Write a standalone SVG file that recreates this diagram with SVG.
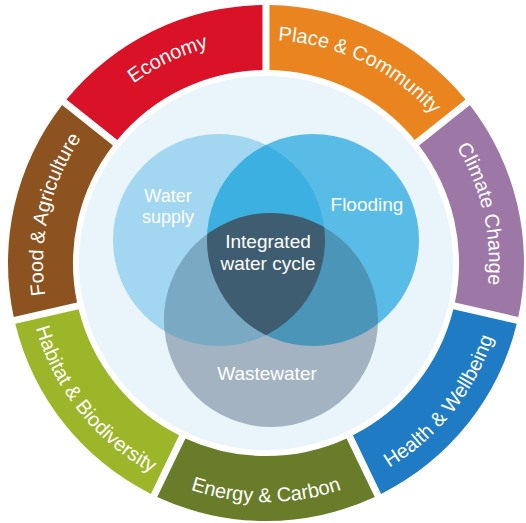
<svg xmlns="http://www.w3.org/2000/svg" xmlns:xlink="http://www.w3.org/1999/xlink" width="526" height="523" viewBox="0 0 526 523">
  <style>
    .ring-label { font-family: "Liberation Sans", Arial, sans-serif; font-size: 20px; fill: #ffffff; }
    .venn-label { font-family: "Liberation Sans", Arial, sans-serif; font-size: 19px; fill: #ffffff; text-anchor: middle; }
    .venn-label.small { font-size: 18px; }
  </style>
  <defs>
    <!-- one ring segment, centred on the top, 1/7 of the circle with a 7px straight gap on each side -->
    <path id="seg" d="M -108.78 -233.95 A 258 258 0 0 1 108.78 -233.95 L 80.57 -175.38 A 193 193 0 0 0 -80.57 -175.38 Z"/>
    <!-- label baselines: clockwise (letters face outward) and anticlockwise (letters face inward) -->
    <path id="arcCw" d="M -111.5 -193.12 A 223 223 0 0 1 111.5 -193.12"/>
    <path id="arcCcw" d="M 119.5 -206.98 A 239 239 0 0 0 -119.5 -206.98"/>
    <clipPath id="clipSupply"><circle cx="219" cy="240" r="106"/></clipPath>
    <clipPath id="clipFlood"><circle cx="313" cy="240" r="106"/></clipPath>
  </defs>

  <rect width="526" height="523" fill="#ffffff"/>

  <!-- pale backdrop disc -->
  <circle id="backdrop" cx="266" cy="263" r="187" fill="#EAF4FB"/>

  <!-- outer ring of themes -->
  <g id="place-community" transform="translate(266 263) rotate(25.714)">
    <use xlink:href="#seg" fill="#E9841E"/>
    <text class="ring-label"><textPath xlink:href="#arcCw" startOffset="50%" text-anchor="middle">Place &amp; Community</textPath></text>
  </g>
  <g id="climate-change" transform="translate(266 263) rotate(77.143)">
    <use xlink:href="#seg" fill="#9D78A7"/>
    <text class="ring-label"><textPath xlink:href="#arcCw" startOffset="50%" text-anchor="middle">Climate Change</textPath></text>
  </g>
  <g id="health-wellbeing" transform="translate(266 263) rotate(128.571)">
    <use xlink:href="#seg" fill="#1F7BC3"/>
    <text class="ring-label"><textPath xlink:href="#arcCcw" startOffset="50%" text-anchor="middle">Health &amp; Wellbeing</textPath></text>
  </g>
  <g id="energy-carbon" transform="translate(266 263) rotate(180)">
    <use xlink:href="#seg" fill="#687C2A"/>
    <text class="ring-label"><textPath xlink:href="#arcCcw" startOffset="50%" text-anchor="middle">Energy &amp; Carbon</textPath></text>
  </g>
  <g id="habitat-biodiversity" transform="translate(266 263) rotate(231.429)">
    <use xlink:href="#seg" fill="#9DB629"/>
    <text class="ring-label"><textPath xlink:href="#arcCcw" startOffset="50%" text-anchor="middle">Habitat &amp; Biodiversity</textPath></text>
  </g>
  <g id="food-agriculture" transform="translate(266 263) rotate(282.857)">
    <use xlink:href="#seg" fill="#8C5321"/>
    <text class="ring-label"><textPath xlink:href="#arcCw" startOffset="50%" text-anchor="middle">Food &amp; Agriculture</textPath></text>
  </g>
  <g id="economy" transform="translate(266 263) rotate(334.286)">
    <use xlink:href="#seg" fill="#D91228"/>
    <text class="ring-label"><textPath xlink:href="#arcCw" startOffset="50%" text-anchor="middle">Economy</textPath></text>
  </g>

  <!-- three overlapping circles -->
  <g id="water-supply">
    <circle cx="219" cy="240" r="106" fill="#A2D6F1"/>
  </g>
  <g id="flooding">
    <circle cx="313" cy="240" r="106" fill="#58BCE7"/>
  </g>
  <g id="wastewater">
    <circle cx="271" cy="320" r="107" fill="#A4B3C2"/>
  </g>
  <g id="overlaps">
    <circle cx="313" cy="240" r="106" fill="#3DB0E2" clip-path="url(#clipSupply)"/>
    <circle cx="271" cy="320" r="107" fill="#79A9C3" clip-path="url(#clipSupply)"/>
    <circle cx="271" cy="320" r="107" fill="#4B96B8" clip-path="url(#clipFlood)"/>
    <g clip-path="url(#clipSupply)">
      <circle cx="271" cy="320" r="107" fill="#3F5D70" clip-path="url(#clipFlood)"/>
    </g>
  </g>
  <g id="venn-labels">
    <text class="venn-label small" x="168" y="202">Water</text>
    <text class="venn-label small" x="168" y="223">supply</text>
    <text class="venn-label" x="367" y="211">Flooding</text>
    <text class="venn-label" x="268" y="248">Integrated</text>
    <text class="venn-label" x="268" y="270">water cycle</text>
    <text class="venn-label" x="267" y="380">Wastewater</text>
  </g>
</svg>
